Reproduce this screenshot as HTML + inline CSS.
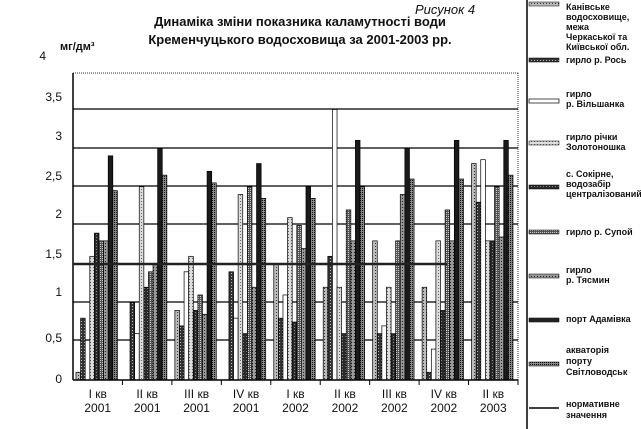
<!DOCTYPE html>
<html><head><meta charset="utf-8"><style>
body{margin:0;background:#fff}
svg{display:block}
text{font-family:"Liberation Sans",sans-serif;fill:#111}
</style></head><body>
<svg width="641" height="429" viewBox="0 0 641 429" xmlns="http://www.w3.org/2000/svg">
<defs>
<pattern id="p1" width="3" height="3" patternUnits="userSpaceOnUse"><rect width="3" height="3" fill="#bbb"/><rect width="1" height="1" fill="#333"/></pattern>
<pattern id="p2" width="3" height="3" patternUnits="userSpaceOnUse"><rect width="3" height="3" fill="#333"/><rect width="1" height="1" fill="#bbb"/></pattern>
<pattern id="p4" width="3" height="3" patternUnits="userSpaceOnUse"><rect width="3" height="3" fill="#ddd"/><rect width="1" height="1" fill="#666"/></pattern>
<pattern id="p5" width="3" height="3" patternUnits="userSpaceOnUse"><rect width="3" height="3" fill="#2a2a2a"/><rect width="1" height="1" fill="#888"/></pattern>
<pattern id="p6" width="2" height="2" patternUnits="userSpaceOnUse"><rect width="2" height="2" fill="#555"/><rect width="1" height="1" fill="#ccc"/></pattern>
<pattern id="p7" width="3" height="3" patternUnits="userSpaceOnUse"><rect width="3" height="3" fill="#999"/><rect width="1" height="1" fill="#222"/></pattern>
<pattern id="p9" width="2" height="2" patternUnits="userSpaceOnUse"><rect width="2" height="2" fill="#888"/><rect width="1" height="1" fill="#111"/></pattern>
</defs>
<text x="415" y="14" font-size="13" font-style="italic">Рисунок 4</text>
<text x="300" y="26" font-size="13" font-weight="bold" text-anchor="middle">Динаміка зміни показника каламутності води</text>
<text x="300" y="44" font-size="13" font-weight="bold" text-anchor="middle">Кременчуцького водосховища за 2001-2003 рр.</text>
<text x="60" y="50" font-size="11" font-weight="bold">мг/дм³</text>
<g font-size="12" text-anchor="end">
<text x="46" y="60">4</text><text x="62" y="101">3,5</text><text x="62" y="140">3</text><text x="62" y="180">2,5</text><text x="62" y="218">2</text><text x="62" y="258">1,5</text><text x="62" y="296">1</text><text x="62" y="342">0,5</text><text x="62" y="383">0</text>
</g>
<line x1="73" y1="73" x2="518" y2="73" stroke="#333" stroke-dasharray="1,1"/>
<line x1="518" y1="73" x2="518" y2="380" stroke="#333" stroke-dasharray="1,1"/>
<g stroke="#000" stroke-width="1.2">
<line x1="73" y1="109" x2="518" y2="109"/><line x1="73" y1="148" x2="518" y2="148"/><line x1="73" y1="186" x2="518" y2="186"/><line x1="73" y1="224" x2="518" y2="224"/><line x1="73" y1="302" x2="518" y2="302"/><line x1="73" y1="340" x2="518" y2="340"/>
</g>
<line x1="73" y1="73" x2="73" y2="380" stroke="#000" stroke-width="1.5"/>
<g id="bars"></g>
<line x1="73" y1="264" x2="447" y2="264" stroke="#222" stroke-width="2.5"/>
<line x1="73" y1="380" x2="518" y2="380" stroke="#000" stroke-width="1.5"/>
<g id="ticks" stroke="#000"></g>
<g font-size="12" text-anchor="middle" id="xl"></g>
<line x1="527" y1="0" x2="527" y2="429" stroke="#000" stroke-width="1.5"/>
<g font-size="9" font-weight="bold">
<rect x="529" y="2" width="30" height="4" fill="url(#p1)" stroke="#000" stroke-width=".5"/>
<text x="566" y="10">Канівське</text><text x="566" y="20">водосховище,</text><text x="566" y="30">межа</text><text x="566" y="40">Черкаської та</text><text x="566" y="50">Київської обл.</text>
<rect x="529" y="58" width="30" height="4" fill="url(#p2)" stroke="#000" stroke-width=".5"/><text x="566" y="63">гирло р. Рось</text>
<rect x="529" y="99" width="30" height="4" fill="#fff" stroke="#000" stroke-width=".7"/><text x="566" y="97">гирло</text><text x="566" y="107">р. Вільшанка</text>
<rect x="529" y="141" width="30" height="4" fill="url(#p4)" stroke="#000" stroke-width=".5"/><text x="566" y="140">гирло річки</text><text x="566" y="150">Золотоношка</text>
<rect x="529" y="185" width="30" height="4" fill="url(#p5)" stroke="#000" stroke-width=".5"/><text x="566" y="177">с. Сокірне,</text><text x="566" y="187">водозабір</text><text x="566" y="197">централізований</text>
<rect x="529" y="230" width="30" height="4" fill="url(#p6)" stroke="#000" stroke-width=".5"/><text x="566" y="235">гирло р. Супой</text>
<rect x="529" y="274" width="30" height="4" fill="url(#p7)" stroke="#000" stroke-width=".5"/><text x="566" y="273">гирло</text><text x="566" y="283">р. Тясмин</text>
<rect x="529" y="318" width="30" height="4" fill="#222" stroke="#000" stroke-width=".5"/><text x="566" y="322">порт Адамівка</text>
<rect x="529" y="362" width="30" height="4" fill="url(#p9)" stroke="#000" stroke-width=".5"/><text x="566" y="353">акваторія</text><text x="566" y="364">порту</text><text x="566" y="375">Світловодськ</text>
<line x1="529" y1="408" x2="559" y2="408" stroke="#000" stroke-width="1.5"/><text x="566" y="407">нормативне</text><text x="566" y="418">значення</text>
</g>
</svg>
<script>
var fills=["url(#p1)","url(#p2)","#fff","url(#p4)","url(#p5)","url(#p6)","url(#p7)","#1a1a1a","url(#p9)"];
var d=[[0.1,0.8,0,1.6,1.9,1.8,1.8,2.9,2.45],[0,1.0,0.6,2.5,1.2,1.4,1.5,3.0,2.65],[0.9,0.7,1.4,1.6,0.9,1.1,0.85,2.7,2.55],[0,1.4,0.8,2.4,0.6,2.5,1.2,2.8,2.35],[1.5,0.8,1.1,2.1,0.75,2.0,1.7,2.5,2.35],[1.2,1.6,3.5,1.2,0.6,2.2,1.8,3.1,2.5],[1.8,0.6,0.7,1.2,0.6,1.8,2.4,3.0,2.6],[1.2,0.1,0.4,1.8,0.9,2.2,1.8,3.1,2.6],[2.8,2.3,2.85,1.8,1.8,2.5,1.85,3.1,2.65]];
var labs=[["I кв","2001"],["II кв","2001"],["III кв","2001"],["IV кв","2001"],["I кв","2002"],["II кв","2002"],["III кв","2002"],["IV кв","2002"],["II кв","2003"]];
var ns="http://www.w3.org/2000/svg",g=document.getElementById("bars"),t=document.getElementById("ticks"),xl=document.getElementById("xl");
var gw=(518-73)/9,bw=4.6;
for(var i=0;i<9;i++){var x0=73+i*gw+3;
for(var j=0;j<9;j++){var v=d[i][j];if(v<=0)continue;var h=v*77.3;var r=document.createElementNS(ns,"rect");
r.setAttribute("x",x0+j*bw);r.setAttribute("y",380-h);r.setAttribute("width",bw);r.setAttribute("height",h);r.setAttribute("fill",fills[j]);r.setAttribute("stroke","#000");r.setAttribute("stroke-width","0.7");g.appendChild(r);}
var l=document.createElementNS(ns,"line");var tx=73+(i+1)*gw;l.setAttribute("x1",tx);l.setAttribute("x2",tx);l.setAttribute("y1",380);l.setAttribute("y2",385);t.appendChild(l);
for(var k=0;k<2;k++){var tt=document.createElementNS(ns,"text");tt.setAttribute("x",73+i*gw+gw/2);tt.setAttribute("y",k?412:398);tt.textContent=labs[i][k];xl.appendChild(tt);}}
</script>
</body></html>
